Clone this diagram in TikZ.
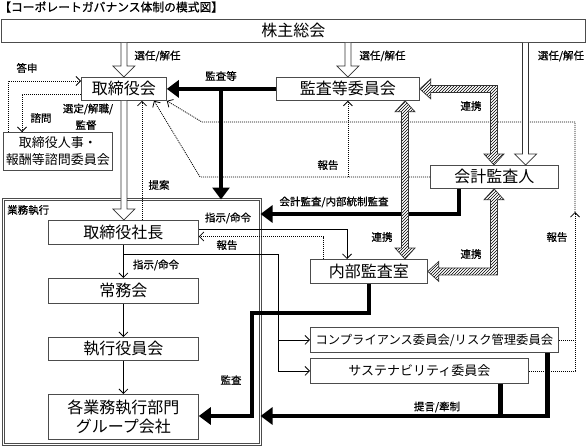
\documentclass[tikz,border=0pt]{standalone}
\usepackage{fontspec}
\setmainfont{Noto Sans CJK JP}
\newfontfamily\lblfont[FakeBold=0.6]{Noto Sans CJK JP}
\usetikzlibrary{arrows.meta,calc,patterns}
\tikzset{
 box/.style={draw=black!70, line width=0.8pt, fill=white, inner sep=0pt, anchor=north west, font=\fontsize{16}{19}\selectfont, align=center},
 lbl/.style={inner sep=0pt, font=\lblfont\fontsize{10.5}{12}\selectfont},
 tline/.style={line width=0.8pt},
 tarrow/.style={tline, -{Straight Barb[length=4.5pt,width=9pt]}},
 dline/.style={line width=0.8pt, dash pattern=on 1pt off 1pt},
 darrow/.style={dline, -{Straight Barb[length=4.5pt,width=9pt]}},
 thkline/.style={line width=4.5pt, line join=miter},
 thk/.style={thkline, -{Triangle[length=12pt,width=17pt]}},
 hollow/.style={draw=black!80, line width=0.7pt, fill=white, line join=miter},
 hatch/.style={draw=black!80, line width=0.7pt, preaction={fill=white}, pattern=north east lines, line join=miter},
}
\newcommand\hollowdown[2]{\draw[hollow] ($(#1)+(-3,0)$) -- ($(#2)+(-3,-11)$) -- ($(#2)+(-11,-11)$) -- (#2) -- ($(#2)+(11,-11)$) -- ($(#2)+(3,-11)$) -- ($(#1)+(3,0)$);}
\begin{document}
\begin{tikzpicture}[x=1pt,y=-1pt]
\useasboundingbox (0,0) rectangle (586,447);
\fill[white] (0,0) rectangle (586,447);
% title
\node[inner sep=0pt, anchor=west, font=\lblfont\fontsize{11.8}{13}\selectfont] (title) at (-1,7) {【コーポレートガバナンス体制の模式図】};
% frame
\node[draw=black!70, line width=0.6pt, double=white, double distance=1.8pt, minimum width=257pt, minimum height=245pt, anchor=north west, inner sep=0pt, outer sep=0pt] (frame) at (3.5,199.5) {};
\node[lbl, anchor=west] (fl) at (7,210) {業務執行};
% boxes
\node[box, minimum width=584pt, minimum height=23pt] (kabu) at (1,19) {株主総会};
\node[box, minimum width=85pt, minimum height=23pt] (tori) at (81,77) {取締役会};
\node[box, minimum width=143pt, minimum height=23pt] (kansa) at (276,77) {監査等委員会};
\node[box, minimum width=128pt, minimum height=23pt] (kaikei) at (430,165) {会計監査人};
\node[box, minimum width=109pt, minimum height=38pt, font=\fontsize{13}{17}\selectfont] (shimon) at (3,132) {取締役人事・\\報酬等諮問委員会};
\node[box, minimum width=150pt, minimum height=24pt] (shacho) at (48,220) {取締役社長};
\node[box, minimum width=117pt, minimum height=24pt] (naibu) at (310,259) {内部監査室};
\node[box, minimum width=150pt, minimum height=25pt] (jomu) at (48,278) {常務会};
\node[box, minimum width=150pt, minimum height=23pt] (shikko) at (48,337) {執行役員会};
\node[box, minimum width=150pt, minimum height=45pt] (kaku) at (48,394) {各業務執行部門\\グループ会社};
\node[box, minimum width=248pt, minimum height=25pt, font=\fontsize{12.3}{14}\selectfont] (comp) at (310,327) {コンプライアンス委員会/リスク管理委員会};
\node[box, minimum width=218pt, minimum height=25pt, font=\fontsize{13}{15}\selectfont] (sust) at (310,358) {サステナビリティ委員会};
% helper coordinates
\coordinate (cx) at (525.5,0);
\coordinate (hA) at (494,0);
\coordinate (hB) at (405,0);
\coordinate (j1) at (221,0);
\coordinate (d1) at (8,81);
\coordinate (d2) at (22,94);
\coordinate (d3) at (142,0);
\coordinate (d4) at (323,236.5);
\coordinate (d5) at (200,0);
\coordinate (d5x) at (154,0);
\coordinate (r1) at (575,122);
\coordinate (rm) at (575,212);
\coordinate (r2) at (202,122);
\coordinate (b1) at (278,254);
\coordinate (s1) at (347,229);
\coordinate (k1) at (459,214);
\coordinate (m1) at (369,313);
\coordinate (m2) at (252,416);
\coordinate (t1) at (547.5,416);
\coordinate (t2) at (500.5,416);
% dotted connectors
\draw[darrow] (shimon.north -| d1) -- (d1) -- (d1 -| tori.west);
\draw[darrow] (d2 -| tori.west) -- (d2) -- (d2 |- shimon.north);
\draw[darrow] (shacho.north -| d3) -- (tori.south -| d3);
\draw[darrow] (naibu.north -| d4) -- (d4) -- (d4 -| shacho.east);
\draw[darrow] (kaikei.west) -- (kaikei.west -| d5) -- (tori.south -| d5x);
\draw[darrow] (kaikei.west -| kansa.south) -- (kansa.south);
\draw[dline] (comp.east) -- (comp.east -| r1);
\draw[darrow] (sust.east) -- (sust.east -| r1) -- (rm);
\draw[darrow] (rm) -- (r1) -- (r2) -- (tori.south east);
% thin solid connectors
\draw[tarrow] (shacho.south) -- (shacho.south |- jomu.north);
\draw[tarrow] (jomu.south) -- (jomu.south |- shikko.north);
\draw[tarrow] (shikko.south) -- (shikko.south |- kaku.north);
\draw[tarrow] (shacho.south |- b1) -- (b1) -- (b1 |- comp.west) -- (comp.west);
\draw[tarrow] (b1 |- comp.west) -- (b1 |- sust.west) -- (sust.west);
\draw[tarrow] (shacho.east |- s1) -- (s1) -- (s1 |- naibu.north);
% thick connectors
\draw[thk] (kansa.west) -- (tori.east);
\draw[thk] (kansa.west -| j1) -- (frame.north -| j1);
\draw[thk] (kaikei.south -| k1) -- (k1) -- (k1 -| frame.east);
\draw[thk] (naibu.south -| m1) -- (m1) -- (m1 -| m2) -- (m2) -- (m2 -| kaku.east);
\draw[thk] (comp.south -| t1) -- (t1) -- (t1 -| frame.east);
\draw[thkline] (sust.south -| t2) -- (t2);
% hollow arrows
\coordinate (ha1) at (kabu.south -| tori.north); \coordinate (ha2) at (tori.north);
\hollowdown{ha1}{ha2}
\coordinate (hb1) at (kabu.south -| kansa.north); \coordinate (hb2) at (kansa.north);
\hollowdown{hb1}{hb2}
\coordinate (hc1) at (kabu.south -| cx); \coordinate (hc2) at (kaikei.north -| cx);
\hollowdown{hc1}{hc2}
\coordinate (hd1) at (tori.south); \coordinate (hd2) at (shacho.north -| tori.south);
\hollowdown{hd1}{hd2}
% hatched arrows
\coordinate (hbA) at (hA |- kansa.east);
\draw[hatch] (kansa.east) -- ++(11,-10) -- ++(0,6.5) -- ($(hbA)+(3.5,-3.5)$) -- ($(kaikei.north -| hbA)+(3.5,-11)$) -- ++(6.5,0) -- (kaikei.north -| hbA) -- ++(-10,-11) -- ++(6.5,0) -- ($(hbA)+(-3.5,3.5)$) -- ($(kansa.east)+(11,3.5)$) -- ++(0,6.5) -- cycle;
\coordinate (p1) at (kansa.south -| hB); \coordinate (p2) at (naibu.north -| hB);
\draw[hatch] (p1) -- ++(10,11) -- ++(-6.5,0) -- ($(p2)+(3.5,-11)$) -- ++(6.5,0) -- (p2) -- ++(-10,-11) -- ++(6.5,0) -- ($(p1)+(-3.5,11)$) -- ++(-6.5,0) -- cycle;
\coordinate (q1) at (kaikei.south -| hA); \coordinate (qc) at (hA |- naibu.east);
\draw[hatch] (q1) -- ++(10,11) -- ++(-6.5,0) -- ($(qc)+(3.5,3.5)$) -- ($(naibu.east)+(11,3.5)$) -- ++(0,6.5) -- (naibu.east) -- ++(11,-10) -- ++(0,6.5) -- ($(qc)+(-3.5,-3.5)$) -- ($(q1)+(-3.5,11)$) -- ++(-6.5,0) -- cycle;
% labels
\node[lbl] (l1) at (157.5,56) {選任/解任};
\node[lbl] (l2) at (382.5,56) {選任/解任};
\node[lbl] (l3) at (561,56) {選任/解任};
\node[lbl] (l4) at (27,68) {答申};
\node[lbl] (l5) at (221,76) {監査等};
\node[lbl] (l6) at (88,109) {選定/解職/};
\node[lbl] (l7) at (86,125) {監督};
\node[lbl] (l8) at (41,118) {諮問};
\node[lbl] (l9) at (159,185) {提案};
\node[lbl] (l10) at (328,165) {報告};
\node[lbl] (l11) at (471,106) {連携};
\node[lbl] (l12) at (228,218) {指示/命令};
\node[lbl] (l13) at (334,202) {会計監査/内部統制監査};
\node[lbl] (l14) at (382,237) {連携};
\node[lbl] (l15) at (227,245) {報告};
\node[lbl] (l16) at (557,237) {報告};
\node[lbl] (l17) at (471,254) {連携};
\node[lbl] (l18) at (156,265) {指示/命令};
\node[lbl] (l19) at (231,380) {監査};
\node[lbl] (l20) at (437,407) {提言/牽制};
\end{tikzpicture}
\end{document}
